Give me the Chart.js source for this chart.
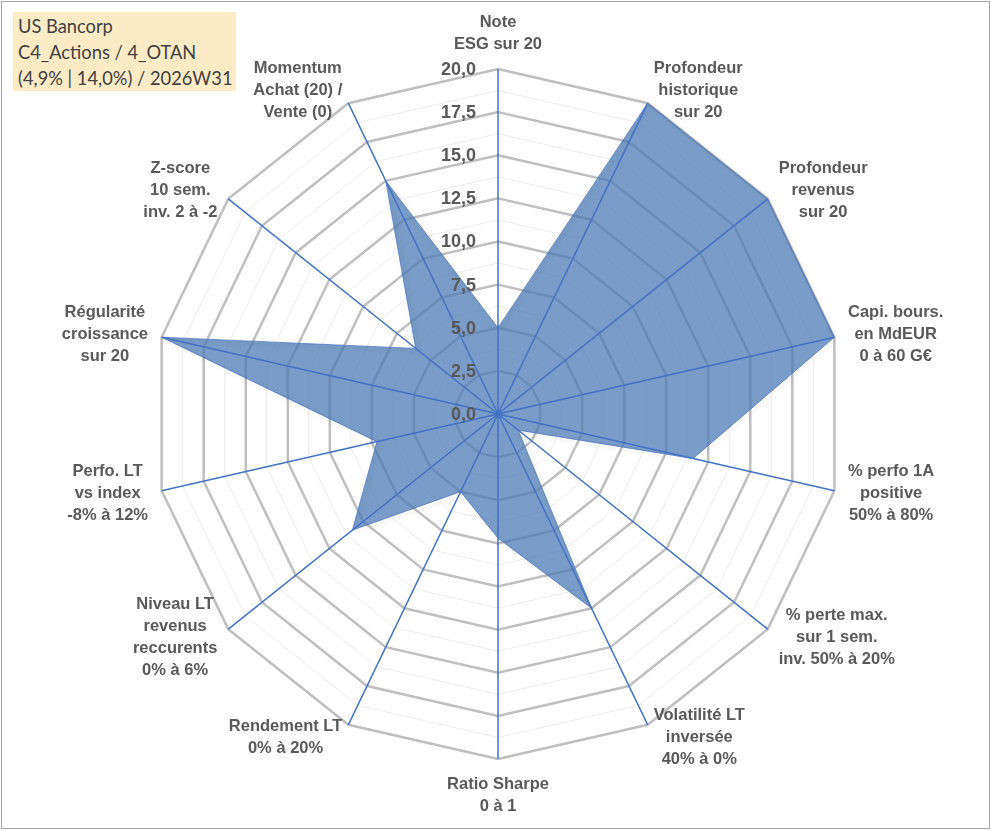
<!DOCTYPE html>
<html lang="fr">
<head>
<meta charset="utf-8">
<title>US Bancorp - radar</title>
<script src="https://cdn.jsdelivr.net/npm/chart.js@4.4.1/dist/chart.umd.min.js"></script>
<style>
  html, body { margin: 0; padding: 0; background: #fff; }
  #wrap { position: relative; width: 991px; height: 830px; overflow: hidden; }
  #chartBox { position: absolute; left: 0; top: 0; width: 991px; height: 830px; }
  #frame { position: absolute; left: 1px; top: 1px; right: 1px; bottom: 1px; border: 1px solid #a6a6a6; pointer-events: none; }
  #box { position: absolute; left: 13px; top: 12px; width: 223px; height: 79px; box-sizing: border-box;
         padding: 1px 0 0 5px; background: #fdebc6; color: #404040;
         font-family: Lato, "Open Sans", sans-serif; font-size: 18.3px; line-height: 26px; white-space: nowrap; }
</style>
</head>
<body>
<div id="wrap">
  <div id="chartBox"><canvas id="radar"></canvas></div>
  <div id="box">US Bancorp<br>C4_Actions / 4_OTAN<br>(4,9% | 14,0%) / 2026W31</div>
  <div id="frame"></div>
</div>
<script>
// axes, dans le sens horaire depuis le haut
const categories = [
  ['Note', 'ESG sur 20'],
  ['Profondeur', 'historique', 'sur 20'],
  ['Profondeur', 'revenus', 'sur 20'],
  ['Capi. bours.', 'en MdEUR', '0 à 60 G€'],
  ['% perfo 1A', 'positive', '50% à 80%'],
  ['% perte max.', 'sur 1 sem.', 'inv. 50% à 20%'],
  ['Volatilité LT', 'inversée', '40% à 0%'],
  ['Ratio Sharpe', '0 à 1'],
  ['Rendement LT', '0% à 20%'],
  ['Niveau LT', 'revenus', 'reccurents', '0% à 6%'],
  ['Perfo. LT', 'vs index', '-8% à 12%'],
  ['Régularité', 'croissance', 'sur 20'],
  ['Z-score', '10 sem.', 'inv. 2 à -2'],
  ['Momentum', 'Achat (20) /', 'Vente (0)']
];
const scores = [5, 20, 20, 20, 11.6, 1.5, 12.5, 7.2, 5.0, 10.8, 7.2, 20, 6.1, 15];

const scaleMin = 0;
const scaleMax = 20;
const majorStep = 2.5;
const minorStep = 1.25;

const labelFont = 'bold 16.5px "Liberation Sans", Arial, sans-serif';
const tickFont = 'bold 18px "Liberation Sans", Arial, sans-serif';
const textColor = '#595959';
const axisBlue = '#4472C4';

function isMajor(v) {
  const q = v / majorStep;
  return Math.abs(q - Math.round(q)) < 1e-6;
}

// ombre douce sous la surface
const shadowPlugin = {
  id: 'areaShadow',
  beforeDatasetDraw(chart) {
    const c = chart.ctx;
    c.save();
    c.shadowColor = 'rgba(0,0,0,0.25)';
    c.shadowBlur = 5;
    c.shadowOffsetX = 2;
    c.shadowOffsetY = 2;
  },
  afterDatasetDraw(chart) {
    chart.ctx.restore();
  }
};

// axes bleus + graduations par-dessus la surface
const overlayPlugin = {
  id: 'overlay',
  afterDatasetsDraw(chart) {
    const s = chart.scales.r;
    const c = chart.ctx;
    c.save();
    c.strokeStyle = axisBlue;
    c.lineWidth = 1.5;
    categories.forEach((_, i) => {
      const p = s.getPointPositionForValue(i, scaleMax);
      c.beginPath();
      c.moveTo(s.xCenter, s.yCenter);
      c.lineTo(p.x, p.y);
      c.stroke();
    });
    c.font = tickFont;
    c.fillStyle = textColor;
    c.textAlign = 'right';
    c.textBaseline = 'middle';
    s.ticks.filter(t => isMajor(t.value)).forEach(t => {
      const p = s.getPointPositionForValue(0, t.value);
      c.fillText(t.value.toFixed(1).replace('.', ','), p.x - 22, p.y + 1);
    });
    c.restore();
  },
  afterDraw(chart) {
    const s = chart.scales.r;
    const c = chart.ctx;
    const lh = 22;
    const gap = 14;
    const r = s.getDistanceFromCenterForValue(scaleMax);
    c.save();
    c.font = labelFont;
    c.fillStyle = textColor;
    c.textAlign = 'center';
    c.textBaseline = 'middle';
    categories.forEach((lines, i) => {
      const a = s.getIndexAngle(i);
      const p = s.getPointPosition(i, r + gap);
      const sin = Math.sin(a), cos = Math.cos(a);
      const h = lines.length * lh;
      const w = Math.max(...lines.map(l => c.measureText(l).width));
      let cx, top;
      if (Math.abs(sin) < 0.01) {
        cx = p.x;
        top = cos > 0 ? p.y - h : p.y;
      } else {
        cx = sin > 0 ? p.x + w / 2 : p.x - w / 2;
        top = p.y - h / 2;
      }
      lines.forEach((l, k) => c.fillText(l, cx, top + lh * (k + 0.5)));
    });
    c.restore();
  }
};

const ctx = document.getElementById('radar').getContext('2d');
new Chart(ctx, {
  type: 'radar',
  data: {
    labels: categories,
    datasets: [{
      data: scores,
      fill: true,
      backgroundColor: 'rgba(76,124,182,0.75)',
      borderColor: 'rgba(68,114,196,0.7)',
      borderWidth: 1,
      pointRadius: 0,
      tension: 0
    }]
  },
  options: {
    responsive: true,
    maintainAspectRatio: false,
    animation: false,
    layout: { padding: { top: 69, bottom: 71, left: 153, right: 148 } },
    plugins: {
      legend: { display: false },
      tooltip: { enabled: false }
    },
    scales: {
      r: {
        min: scaleMin,
        max: scaleMax,
        ticks: { display: false, stepSize: minorStep },
        grid: {
          color: c => isMajor(c.tick.value) ? '#bfbfbf' : '#ececec',
          lineWidth: c => isMajor(c.tick.value) ? 2.5 : 1
        },
        angleLines: { display: false },
        pointLabels: { display: false }
      }
    }
  },
  plugins: [shadowPlugin, overlayPlugin]
});
</script>
</body>
</html>
